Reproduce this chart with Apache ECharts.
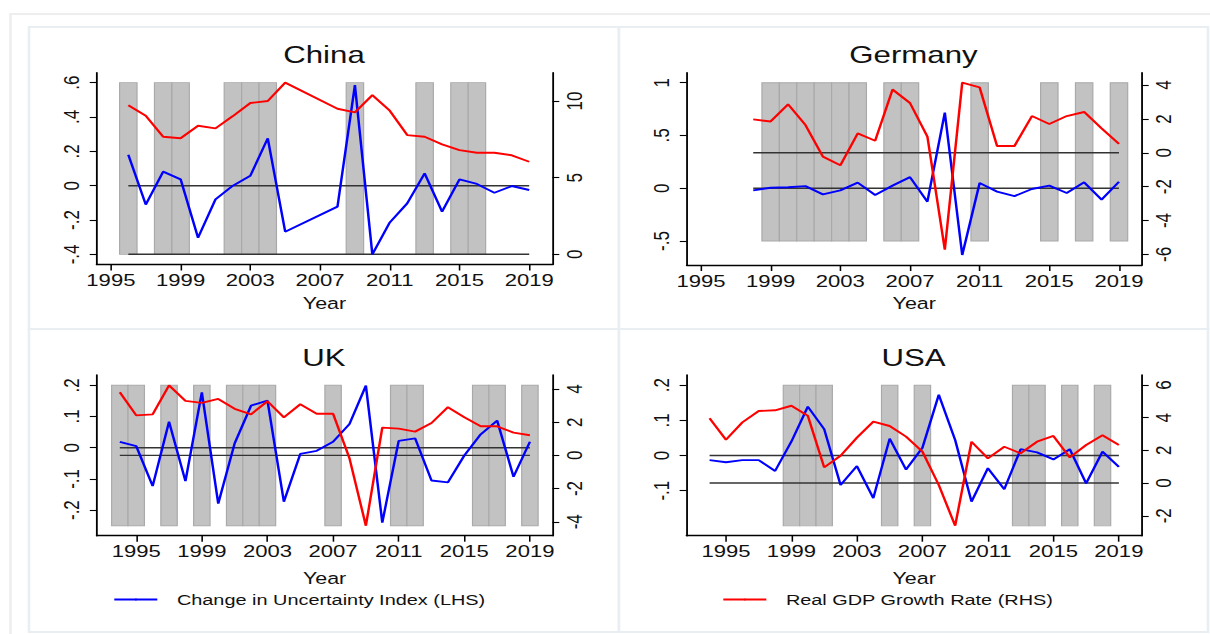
<!DOCTYPE html>
<html>
<head>
<meta charset="utf-8">
<script src="https://cdn.jsdelivr.net/npm/echarts@6/dist/echarts.min.js"></script>
<style>
  html, body { margin: 0; padding: 0; background: #fff; overflow: hidden; }
  #wrap { width: 1210px; height: 634px; position: relative; overflow: hidden; background: #fff; }
  #chart { position: absolute; left: 0; top: 0; height: 634px; transform-origin: 0 0; }
</style>
</head>
<body>
<div id="wrap"><div id="chart"></div></div>
<script>
// ---- Data -------------------------------------------------------------
const xTickYears = [1995, 1999, 2003, 2007, 2011, 2015, 2019];

// China (2006-2007 not available)
const chinaYears = [1996,1997,1998,1999,2000,2001,2002,2003,2004,2005,2006,2007,2008,2009,2010,2011,2012,2013,2014,2015,2016,2017,2018,2019];
const chinaUncertainty = [0.18,-0.11,0.082,0.037,-0.303,-0.08,0.0,0.058,0.276,-0.268,null,null,-0.122,0.586,-0.40,-0.214,-0.103,0.072,-0.151,0.037,0.01,-0.041,-0.002,-0.025];
const chinaGdp = [9.72,9.04,7.67,7.57,8.39,8.22,9.02,9.87,10.0,11.2,null,null,9.5,9.26,10.39,9.37,7.78,7.67,7.17,6.8,6.63,6.63,6.46,6.04];
const chinaShadeYears = [1996,1998,1999,2002,2003,2004,2009,2013,2015,2016];
const chinaShadeBand = [-0.4, 0.6];
const chinaLeftTicks = [-0.4,-0.2,0,0.2,0.4,0.6];
const chinaRightTicks = [0,5,10];

// Germany
const germanyYears = [1998,1999,2000,2001,2002,2003,2004,2005,2006,2007,2008,2009,2010,2011,2012,2013,2014,2015,2016,2017,2018,2019];
const germanyUncertainty = [-0.02,0.005,0.01,0.02,-0.058,-0.02,0.053,-0.064,0.025,0.106,-0.127,0.716,-0.632,0.05,-0.032,-0.074,-0.007,0.025,-0.045,0.056,-0.108,0.062];
const germanyGdp = [1.97,1.85,2.86,1.64,-0.23,-0.74,1.15,0.71,3.74,2.94,0.95,-5.72,4.14,3.86,0.4,0.4,2.17,1.7,2.17,2.41,1.44,0.52];
const germanyShadeYears = [1999,2000,2001,2002,2003,2004,2006,2007,2011,2015,2017,2019];
const germanyShadeBand = [-0.5, 1];
const germanyLeftTicks = [-0.5,0,0.5,1];
const germanyRightTicks = [-6,-4,-2,0,2,4];

// UK
const ukYears = [1994,1995,1996,1997,1998,1999,2000,2001,2002,2003,2004,2005,2006,2007,2008,2009,2010,2011,2012,2013,2014,2015,2016,2017,2018,2019];
const ukUncertainty = [0.019,0.005,-0.123,0.083,-0.107,0.177,-0.179,0.014,0.135,0.151,-0.173,-0.02,-0.01,0.019,0.076,0.199,-0.24,0.022,0.03,-0.105,-0.111,-0.025,0.043,0.087,-0.093,0.019];
const ukGdp = [3.8,2.41,2.47,4.22,3.28,3.16,3.4,2.8,2.47,3.26,2.29,3.08,2.51,2.51,-0.18,-4.24,1.67,1.61,1.43,1.95,2.9,2.29,1.75,1.75,1.37,1.21];
const ukShadeYears = [1994,1995,1997,1999,2001,2002,2003,2007,2011,2012,2016,2017,2019];
const ukShadeBand = [-0.25, 0.2];
const ukLeftTicks = [-0.2,-0.1,0,0.1,0.2];
const ukRightTicks = [-4,-2,0,2,4];

// USA
const usaYears = [1994,1995,1996,1997,1998,1999,2000,2001,2002,2003,2004,2005,2006,2007,2008,2009,2010,2011,2012,2013,2014,2015,2016,2017,2018,2019];
const usaUncertainty = [-0.013,-0.019,-0.013,-0.013,-0.044,0.04,0.139,0.075,-0.084,-0.03,-0.121,0.048,-0.04,0.022,0.173,0.044,-0.131,-0.036,-0.096,0.018,0.009,-0.011,0.018,-0.079,0.011,-0.032];
const usaGdp = [3.96,2.65,3.71,4.41,4.45,4.73,4.12,0.96,1.67,2.78,3.76,3.49,2.84,1.92,-0.12,-2.61,2.53,1.51,2.22,1.82,2.53,2.88,1.57,2.33,2.92,2.33];
const usaShadeYears = [1999,2000,2001,2005,2007,2013,2014,2016,2018];
const usaShadeBand = [-0.2, 0.2];
const usaLeftTicks = [-0.1,0,0.1,0.2];
const usaRightTicks = [-2,0,2,4,6];

const UNC_NAME = 'Change in Uncertainty Index (LHS)';
const GDP_NAME = 'Real GDP Growth Rate (RHS)';

// ---- Layout -----------------------------------------------------------
// The figure is drawn narrow and widened with a CSS scaleX, which gives the
// wide lettering of the exported graph.
const S = 1.3;
const W = 1210 / S;
const chartEl = document.getElementById('chart');
chartEl.style.width = W + 'px';
chartEl.style.transform = 'scaleX(' + S + ')';
const sx = v => v / S;

const FONT = '"Liberation Sans", Arial, Helvetica, sans-serif';
const INK = '#111';

const panels = [
  { title: 'China',   cx: 324,   ty: 55,
    grid: { l: 96.6, r: 552.4, t: 72.7, b: 264.5 }, xr: [1994.18, 2020.33],
    yl: [-0.459, 0.658], yr: [-0.665, 11.85],
    years: chinaYears, unc: chinaUncertainty, gdp: chinaGdp,
    shade: chinaShadeYears, band: chinaShadeBand, lt: chinaLeftTicks, rt: chinaRightTicks },
  { title: 'Germany', cx: 913.5, ty: 55,
    grid: { l: 686.7, r: 1141.8, t: 72.7, b: 265 }, xr: [1994.18, 2020.31],
    yl: [-0.727, 1.095], yr: [-6.63, 4.73],
    years: germanyYears, unc: germanyUncertainty, gdp: germanyGdp,
    shade: germanyShadeYears, band: germanyShadeBand, lt: germanyLeftTicks, rt: germanyRightTicks },
  { title: 'UK',      cx: 324,   ty: 357.5,
    grid: { l: 96.7, r: 552.4, t: 375, b: 535.7 }, xr: [1992.59, 2020.37],
    yl: [-0.282, 0.233], yr: [-4.84, 4.84],
    years: ukYears, unc: ukUncertainty, gdp: ukGdp,
    shade: ukShadeYears, band: ukShadeBand, lt: ukLeftTicks, rt: ukRightTicks },
  { title: 'USA',     cx: 913.5, ty: 357.5,
    grid: { l: 686.5, r: 1141.8, t: 375, b: 535.7 }, xr: [1992.59, 2020.40],
    yl: [-0.228, 0.229], yr: [-3.22, 6.61],
    years: usaYears, unc: usaUncertainty, gdp: usaGdp,
    shade: usaShadeYears, band: usaShadeBand, lt: usaLeftTicks, rt: usaRightTicks }
];

// Stata-style labels: ".2", "-.4", "0"
const stataNum = v => {
  const r = Math.round(v * 1000) / 1000;
  if (r === 0) return '0';
  const s = String(Math.abs(r)).replace(/^0\./, '.');
  return (r < 0 ? '-' : '') + s;
};

const grids = [], xAxes = [], yAxes = [], series = [], graphics = [];

// Figure frame and panel boxes
graphics.push({ type: 'rect', silent: true, z: -10,
  shape: { x: sx(10.5), y: 14, width: sx(1215 - 10.5), height: 640 },
  style: { fill: 'none', stroke: '#eeeeee', lineWidth: 2 } });
[[29, 27, 619, 329], [619, 27, 1208, 329], [29, 329, 619, 632], [619, 329, 1208, 632]].forEach(b => {
  graphics.push({ type: 'rect', silent: true, z: -9,
    shape: { x: sx(b[0]), y: b[1], width: sx(b[2] - b[0]), height: b[3] - b[1] },
    style: { fill: '#fff', stroke: '#e8eef1', lineWidth: 2 } });
});

panels.forEach((p, i) => {
  const g = p.grid;
  grids.push({ left: sx(g.l), top: g.t, width: sx(g.r - g.l), height: g.b - g.t, containLabel: false });

  const axisLine = { show: true, onZero: false, lineStyle: { color: '#000', width: 1.4 } };
  xAxes.push({
    type: 'value', gridIndex: i, min: p.xr[0], max: p.xr[1],
    axisLine,
    axisTick: { show: true, length: 6, customValues: xTickYears, lineStyle: { color: '#000', width: 1.2 } },
    axisLabel: { customValues: xTickYears, margin: 7, fontSize: 17, color: INK, fontFamily: FONT,
                 formatter: v => String(v) },
    splitLine: { show: false },
    name: 'Year', nameLocation: 'middle', nameGap: i < 2 ? 30 : 34,
    nameTextStyle: { fontSize: 16.5, color: INK, fontFamily: FONT }
  });
  yAxes.push({
    type: 'value', gridIndex: i, position: 'left', min: p.yl[0], max: p.yl[1],
    axisLine,
    axisTick: { show: true, length: 5.3, customValues: p.lt, lineStyle: { color: '#000', width: 1.1 } },
    axisLabel: { customValues: p.lt, rotate: 90, margin: 11, fontSize: 17, color: INK, fontFamily: FONT,
                 formatter: stataNum },
    splitLine: { show: false }
  });
  yAxes.push({
    type: 'value', gridIndex: i, position: 'right', min: p.yr[0], max: p.yr[1],
    axisLine,
    axisTick: { show: true, length: 5.3, customValues: p.rt, lineStyle: { color: '#000', width: 1.1 } },
    axisLabel: { customValues: p.rt, rotate: 90, margin: 8, fontSize: 17, color: INK, fontFamily: FONT,
                 formatter: stataNum },
    splitLine: { show: false }
  });

  // shaded years
  series.push({
    type: 'custom', xAxisIndex: i, yAxisIndex: 2 * i, silent: true, z: 1,
    data: p.shade.map(y => [y, p.band[0], p.band[1]]),
    encode: { x: 0, y: [1, 2] },
    renderItem: (params, api) => {
      const yr = api.value(0);
      const a = api.coord([yr - 0.5, api.value(2)]);
      const b = api.coord([yr + 0.5, api.value(1)]);
      return { type: 'rect',
        shape: { x: a[0], y: a[1], width: b[0] - a[0], height: b[1] - a[1] },
        style: { fill: '#c2c2c2', stroke: '#a9a9a9', lineWidth: 0.9 } };
    }
  });

  // zero reference lines for both scales
  const first = p.years[0], last = p.years[p.years.length - 1];
  [2 * i, 2 * i + 1].forEach(ax => {
    series.push({ type: 'line', xAxisIndex: i, yAxisIndex: ax, silent: true, z: 2,
      symbol: 'none', data: [[first, 0], [last, 0]],
      lineStyle: { color: '#333', width: 1.4 } });
  });

  series.push({ name: UNC_NAME, type: 'line', xAxisIndex: i, yAxisIndex: 2 * i, z: 3,
    symbol: 'none', connectNulls: true,
    data: p.years.map((y, k) => [y, p.unc[k]]),
    lineStyle: { color: '#0000ff', width: 1.9 }, itemStyle: { color: '#0000ff' } });
  series.push({ name: GDP_NAME, type: 'line', xAxisIndex: i, yAxisIndex: 2 * i + 1, z: 4,
    symbol: 'none', connectNulls: true,
    data: p.years.map((y, k) => [y, p.gdp[k]]),
    lineStyle: { color: '#ff0000', width: 1.9 }, itemStyle: { color: '#ff0000' } });

  graphics.push({ type: 'text', silent: true, z: 10, x: sx(p.cx), y: p.ty,
    style: { text: p.title, fill: INK, font: '24px ' + FONT, align: 'center', verticalAlign: 'middle',
             textAlign: 'center', textVerticalAlign: 'middle' } });
});

const legendBase = {
  orient: 'horizontal', padding: 0, top: 592, itemWidth: sx(43), itemHeight: 2,
  selectedMode: false,
  textStyle: { fontSize: 15.3, color: INK, fontFamily: FONT, padding: [0, 0, 0, sx(19.6) - 5] }
};

const chart = echarts.init(chartEl, null, { renderer: 'svg' });
chart.setOption({
  animation: false,
  backgroundColor: 'transparent',
  grid: grids,
  xAxis: xAxes,
  yAxis: yAxes,
  series,
  graphic: graphics,
  legend: [
    Object.assign({}, legendBase, { left: sx(113), data: [UNC_NAME] }),
    Object.assign({}, legendBase, { left: sx(722), data: [GDP_NAME] })
  ]
});
</script>
</body>
</html>
